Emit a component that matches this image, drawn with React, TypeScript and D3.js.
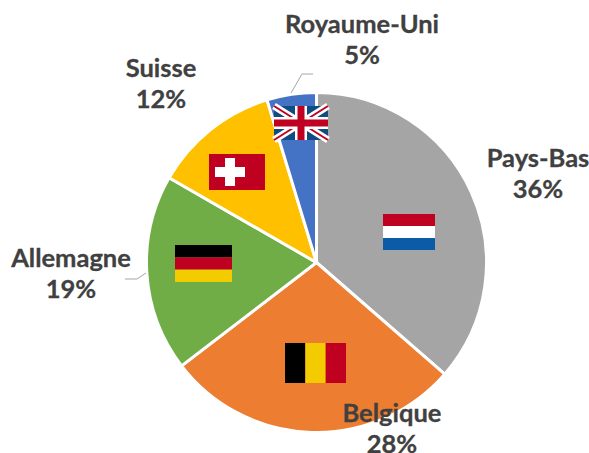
import React from "react";
import * as d3 from "d3";

const categories = ["Pays-Bas", "Belgique", "Allemagne", "Suisse", "Royaume-Uni"];
const shares = [36.4, 28.2, 18.7, 12.0, 4.7];
const colors = ["#A5A5A5", "#ED7D31", "#70AD47", "#FFC000", "#4472C4"];
const labelX = [538, 392, 71, 161, 362];
const labelY = [167, 422, 267, 77, 33];

const W = 589, H = 453, CX = 316.5, CY = 262.5, R = 170;
const ink = "#404040";

function Flag({ code, x, y, w, h }: { code: string; x: number; y: number; w: number; h: number }) {
  if (code === "NL" || code === "DE") {
    const c = code === "NL" ? ["#C00020", "#FFFFFF", "#0B5CA8"] : ["#000000", "#C00020", "#F2CB00"];
    const sy = d3.scaleBand<number>().domain([0, 1, 2]).range([y, y + h]);
    return <g>{c.map((f, i) => <rect key={i} x={x} y={sy(i)} width={w} height={sy.bandwidth()} fill={f} />)}</g>;
  }
  if (code === "BE") {
    const c = ["#000000", "#F2CB00", "#C00020"];
    const sx = d3.scaleBand<number>().domain([0, 1, 2]).range([x, x + w]);
    return <g>{c.map((f, i) => <rect key={i} x={sx(i)} y={y} width={sx.bandwidth()} height={h} fill={f} />)}</g>;
  }
  if (code === "CH") {
    const cx = x + 21, cy = y + h / 2;
    return <g>
      <rect x={x} y={y} width={w} height={h} fill="#C00020" />
      <rect x={cx - 15} y={cy - 5} width={30} height={10} fill="#fff" />
      <rect x={cx - 5} y={cy - 14} width={10} height={28} fill="#fff" />
    </g>;
  }
  const x2 = x + w, y2 = y + h, cx = x + w / 2, cy = y + h / 2;
  return <g>
    <rect x={x} y={y} width={w} height={h} fill="#0F4C81" />
    <path d={`M${x},${y}L${x2},${y2}M${x2},${y}L${x},${y2}`} stroke="#fff" strokeWidth={7} />
    <path d={`M${x},${y}L${x2},${y2}M${x2},${y}L${x},${y2}`} stroke="#C00020" strokeWidth={2} />
    <rect x={cx - 6} y={y} width={12} height={h} fill="#fff" />
    <rect x={x} y={cy - 6} width={w} height={12} fill="#fff" />
    <rect x={cx - 3.5} y={y} width={7} height={h} fill="#C00020" />
    <rect x={x} y={cy - 3.5} width={w} height={7} fill="#C00020" />
  </g>;
}

const flags = [
  { code: "NL", x: 383, y: 214, w: 52, h: 36 },
  { code: "BE", x: 285, y: 343, w: 61, h: 40 },
  { code: "DE", x: 175, y: 245, w: 57, h: 37 },
  { code: "CH", x: 209, y: 154, w: 56, h: 36 },
  { code: "UK", x: 274, y: 106, w: 54, h: 34 },
];

const leaders = ["M291,93L302,74L313,74", "M146,273L137,279L125,279"];

export default function App() {
  const pie = d3.pie<number>().sort(null)(shares);
  const arc = d3.arc<d3.PieArcDatum<number>>().innerRadius(0).outerRadius(R);
  return (
    <svg width={W} height={H} viewBox={`0 0 ${W} ${H}`} style={{ position: "absolute", left: 0, top: 0, background: "#fff" }}>
      <g transform={`translate(${CX},${CY})`}>
        {pie.map((p, i) => <path key={i} d={arc(p)!} fill={colors[i]} stroke="#fff" strokeWidth={3} />)}
      </g>
      {leaders.map((d, i) => <path key={i} d={d} fill="none" stroke="#A6A6A6" strokeWidth={1} />)}
      {flags.map(f => <Flag key={f.code} {...f} />)}
      {categories.map((c, i) => (
        <text key={c} x={labelX[i]} textAnchor="middle" fontFamily="Lato, 'Open Sans', sans-serif" fontWeight={700} fontSize={25.5} fill={ink} stroke={ink} strokeWidth={0.3}>
          <tspan x={labelX[i]} y={labelY[i]}>{c}</tspan>
          <tspan x={labelX[i]} y={labelY[i] + 31}>{Math.round(shares[i])}%</tspan>
        </text>
      ))}
    </svg>
  );
}
